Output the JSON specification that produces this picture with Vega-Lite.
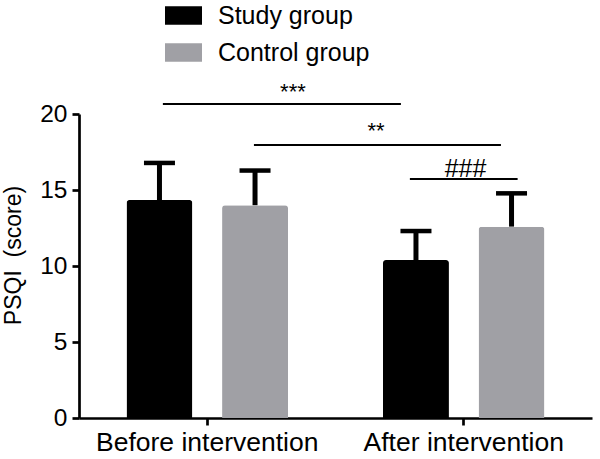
{
  "$schema": "https://vega.github.io/schema/vega-lite/v6.json",
  "width": 513,
  "height": 304,
  "padding": {"left": 79, "top": 114, "right": 8, "bottom": 41},
  "autosize": {"type": "none"},
  "background": "white",
  "config": {
    "view": {"stroke": null},
    "font": "Liberation Sans",
    "axis": {
      "domainColor": "black",
      "domainWidth": 2.7,
      "tickColor": "black",
      "tickWidth": 2.7,
      "tickSize": 7,
      "labelColor": "black",
      "labelFont": "Liberation Sans",
      "labelFontSize": 24.5,
      "labelLimit": 0,
      "titleFont": "Liberation Sans",
      "titleColor": "black",
      "titleFontWeight": "normal",
      "grid": false
    }
  },
  "datasets": {
    "bars": [
      {"group": "Before intervention", "cond": "Study group", "mean": 14.34, "upper": 16.78},
      {"group": "Before intervention", "cond": "Control group", "mean": 14.0, "upper": 16.28},
      {"group": "After intervention", "cond": "Study group", "mean": 10.39, "upper": 12.3},
      {"group": "After intervention", "cond": "Control group", "mean": 12.59, "upper": 14.78}
    ],
    "sig": [
      {"label": "***", "x1": 0.327, "x2": 1.255, "ly": 20.66, "tx": 0.834, "ty": 20.99, "fs": 22},
      {"label": "**", "x1": 0.682, "x2": 1.645, "ly": 17.96, "tx": 1.158, "ty": 18.43, "fs": 22},
      {"label": "###", "x1": 1.29, "x2": 1.71, "ly": 15.72, "tx": 1.507, "ty": 15.86, "fs": 25}
    ]
  },
  "layer": [
    {
      "data": {"name": "bars"},
      "layer": [
        {
          "mark": {"type": "bar", "cornerRadiusTopLeft": 3, "cornerRadiusTopRight": 3},
          "encoding": {
            "x": {
              "field": "group", "type": "nominal",
              "sort": ["Before intervention", "After intervention"],
              "scale": {"paddingInner": 0, "paddingOuter": 0},
              "axis": {"title": null, "labelAngle": 0, "labelPadding": 4, "labelFontSize": 26.5, "labelLimit": 0}
            },
            "xOffset": {
              "field": "cond", "type": "nominal",
              "sort": ["Study group", "Control group"],
              "scale": {"paddingInner": 0.31, "paddingOuter": 0.497}
            },
            "y": {
              "field": "mean", "type": "quantitative",
              "scale": {"domain": [0, 20], "nice": false},
              "axis": {"values": [0, 5, 10, 15, 20], "title": "PSQI\u00a0 (score)", "titleFontSize": 23, "titlePadding": 14, "titleY": 141, "labelPadding": 5}
            },
            "color": {
              "field": "cond", "type": "nominal",
              "sort": ["Study group", "Control group"],
              "scale": {"domain": ["Study group", "Control group"], "range": ["#000000", "#a0a0a5"]},
              "legend": {
                "title": null,
                "orient": "none",
                "legendX": 86,
                "legendY": -117,
                "symbolType": "M-1,-0.5H1V0.5H-1Z",
                "symbolSize": 1369,
                "symbolStrokeWidth": 0,
                "symbolOpacity": 1,
                "labelFontSize": 25,
                "labelFont": "Liberation Sans",
                "labelColor": "black",
                "labelOffset": 16,
                "rowPadding": 5
              }
            }
          }
        },
        {
          "mark": {"type": "rule", "color": "black", "strokeWidth": 5, "opacity": 1},
          "encoding": {
            "x": {"field": "group", "type": "nominal", "sort": ["Before intervention", "After intervention"]},
            "xOffset": {"field": "cond", "type": "nominal", "sort": ["Study group", "Control group"]},
            "y": {"field": "mean", "type": "quantitative"},
            "y2": {"field": "upper"}
          }
        },
        {
          "mark": {"type": "tick", "color": "black", "size": 31, "thickness": 4.5, "opacity": 1},
          "encoding": {
            "x": {"field": "group", "type": "nominal", "sort": ["Before intervention", "After intervention"]},
            "xOffset": {"field": "cond", "type": "nominal", "sort": ["Study group", "Control group"]},
            "y": {"field": "upper", "type": "quantitative"}
          }
        }
      ]
    },
    {
      "data": {"name": "sig"},
      "layer": [
        {
          "mark": {"type": "rule", "color": "black", "strokeWidth": 2, "clip": false},
          "encoding": {
            "x": {"field": "x1", "type": "quantitative", "scale": {"domain": [0, 2], "nice": false, "zero": false}, "axis": null},
            "x2": {"field": "x2"},
            "y": {"field": "ly", "type": "quantitative"}
          }
        },
        {
          "mark": {"type": "text", "color": "black", "align": "center", "baseline": "alphabetic", "font": "Liberation Sans"},
          "encoding": {
            "x": {"field": "tx", "type": "quantitative", "axis": null},
            "y": {"field": "ty", "type": "quantitative"},
            "text": {"field": "label"},
            "size": {"field": "fs", "type": "quantitative", "scale": null, "legend": null}
          }
        }
      ]
    }
  ],
  "resolve": {"scale": {"x": "independent"}}
}
